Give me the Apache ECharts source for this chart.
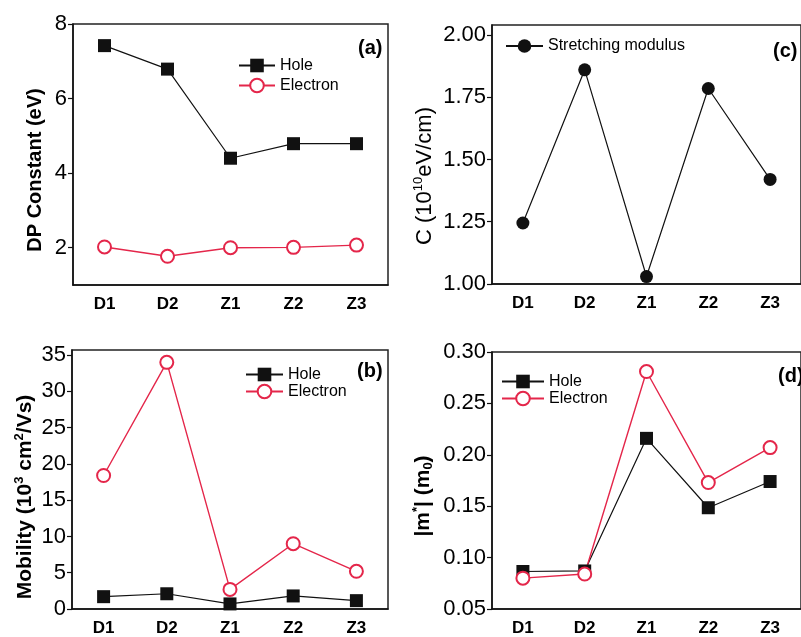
<!DOCTYPE html>
<html>
<head>
<meta charset="utf-8">
<script src="https://cdn.jsdelivr.net/npm/echarts@6/dist/echarts.min.js"></script>
<style>html,body{margin:0;padding:0;background:#fff;}#c{width:801px;height:637px;}</style>
</head>
<body>
<div id="c"></div>
<script>
const categories = ['D1', 'D2', 'Z1', 'Z2', 'Z3'];
// (a) DP constant (eV)
const dpHole = [7.42, 6.79, 4.40, 4.79, 4.79];
const dpElectron = [2.02, 1.77, 2.00, 2.01, 2.07];
// (b) Mobility (10^3 cm^2/Vs)
const mobHole = [1.7, 2.1, 0.7, 1.8, 1.15];
const mobElectron = [18.4, 34.0, 2.7, 9.0, 5.2];
// (c) Stretching modulus (10^10 eV/cm)
const stretching = [1.245, 1.86, 1.03, 1.785, 1.42];
// (d) |m*| (m0)
const massHole = [0.0865, 0.087, 0.216, 0.1485, 0.174];
const massElectron = [0.080, 0.084, 0.281, 0.173, 0.207];
// tick labels
const ticksA = [2, 4, 6, 8];
const ticksB = [0, 5, 10, 15, 20, 25, 30, 35];
const ticksC = [1.00, 1.25, 1.50, 1.75, 2.00];
const ticksD = [0.05, 0.10, 0.15, 0.20, 0.25, 0.30];

const FONT = '"Liberation Sans", Arial, sans-serif';
const RED = '#e4264a';
const BLK = '#111';

const grids = [
  {left: 73, top: 24, width: 315, height: 261},
  {left: 72, top: 350, width: 316, height: 259},
  {left: 492, top: 25, width: 315, height: 259},
  {left: 492, top: 352, width: 315, height: 258}
].map(g => Object.assign(g, {show: true, borderColor: '#222', borderWidth: 1.5, backgroundColor: 'transparent'}));

function xAx(i) {
  return {
    type: 'category', gridIndex: i, data: categories, boundaryGap: true,
    axisLine: {lineStyle: {color: BLK, width: 1.5}},
    axisTick: {alignWithLabel: true, length: 5, lineStyle: {color: BLK, width: 1.2}},
    axisLabel: {margin: 11, color: '#000', fontFamily: FONT, fontSize: 17, fontWeight: 'bold'},
    splitLine: {show: false}
  };
}
function yAx(i, min, max, ticks, dec) {
  return {
    type: 'value', gridIndex: i, min: min, max: max,
    axisLine: {show: true, lineStyle: {color: BLK, width: 1.5}},
    axisTick: {show: true, length: 5, customValues: ticks, lineStyle: {color: BLK, width: 1.2}},
    axisLabel: {customValues: ticks, margin: 6, color: '#000', fontFamily: FONT, fontSize: 22,
      formatter: v => Number(v).toFixed(dec)},
    splitLine: {show: false}
  };
}

function holeSeries(name, xi, data) {
  return {name: name, type: 'line', xAxisIndex: xi, yAxisIndex: xi, data: data,
    symbol: 'rect', symbolSize: 13, itemStyle: {color: BLK},
    lineStyle: {color: BLK, width: 1.2}};
}
function elecSeries(name, xi, data) {
  return {name: name, type: 'line', xAxisIndex: xi, yAxisIndex: xi, data: data,
    symbol: 'emptyCircle', symbolSize: 13, itemStyle: {color: RED, borderWidth: 1.4},
    lineStyle: {color: RED, width: 1.4}};
}

const legendBase = {orient: 'vertical', padding: 0, itemHeight: 17, textStyle: {fontFamily: FONT, fontSize: 16, color: '#000', lineHeight: 14}};

function label(text, x, y) {
  return {type: 'text', x: x, y: y, style: {text: text, fontFamily: FONT, fontSize: 20, fontWeight: 'bold', fill: '#000', textAlign: 'left', textVerticalAlign: 'middle'}};
}
function yName(text, rich, x, y) {
  return {type: 'text', x: x, y: y, rotation: Math.PI / 2,
    style: {text: text, rich: rich, textAlign: 'center', textVerticalAlign: 'middle', fill: '#000'}};
}

const option = {
  animation: false,
  backgroundColor: '#fff',
  grid: grids,
  xAxis: [xAx(0), xAx(1), xAx(2), xAx(3)],
  yAxis: [
    yAx(0, 1, 8, ticksA, 0),
    yAx(1, 0, 35.7, ticksB, 0),
    yAx(2, 1, 2.04, ticksC, 2),
    yAx(3, 0.05, 0.30, ticksD, 2)
  ],
  legend: [
    Object.assign({}, legendBase, {data: ['Hole', 'Electron'], left: 238, top: 57.5, itemWidth: 36, itemGap: 4}),
    Object.assign({}, legendBase, {data: ['Hole', 'Electron'], left: 245, top: 366.5, itemWidth: 37, itemGap: 1}),
    Object.assign({}, legendBase, {data: ['Stretching modulus'], left: 505, top: 38, itemWidth: 37, itemGap: 1}),
    Object.assign({}, legendBase, {data: ['Hole', 'Electron'], left: 501, top: 373.5, itemWidth: 42, itemGap: 1})
  ],
  series: [
    holeSeries('Hole', 0, dpHole),
    elecSeries('Electron', 0, dpElectron),
    holeSeries('Hole', 1, mobHole),
    elecSeries('Electron', 1, mobElectron),
    {name: 'Stretching modulus', type: 'line', xAxisIndex: 2, yAxisIndex: 2, data: stretching,
      symbol: 'circle', symbolSize: 13, itemStyle: {color: BLK}, lineStyle: {color: BLK, width: 1.2}},
    holeSeries('Hole', 3, massHole),
    elecSeries('Electron', 3, massElectron)
  ],
  graphic: [
    label('(a)', 358, 48),
    label('(b)', 357, 371),
    label('(c)', 773, 51),
    label('(d)', 778, 376),
    yName('{a|DP Constant (eV)}', {a: {fontFamily: FONT, fontSize: 20, fontWeight: 'bold', fill: '#000', lineHeight: 24}}, 35, 170),
    yName('{a|Mobility (10}{s|3}{a| cm}{s|2}{a|/Vs)}', {
      a: {fontFamily: FONT, fontSize: 21, fontWeight: 'bold', fill: '#000', lineHeight: 24},
      s: {fontFamily: FONT, fontSize: 13, fontWeight: 'bold', fill: '#000', lineHeight: 13, verticalAlign: 'top'}
    }, 25, 497),
    yName('{a|C (10}{s|10}{a|eV/cm)}', {
      a: {fontFamily: FONT, fontSize: 22, fill: '#000', lineHeight: 26},
      s: {fontFamily: FONT, fontSize: 13, fill: '#000', lineHeight: 13, verticalAlign: 'top'}
    }, 425, 176),
    yName('{a||m}{s|*}{a|| (m}{b|0}{a|)}', {
      a: {fontFamily: FONT, fontSize: 21, fontWeight: 'bold', fill: '#000', lineHeight: 24},
      s: {fontFamily: FONT, fontSize: 13, fontWeight: 'bold', fill: '#000', lineHeight: 13, verticalAlign: 'top'},
      b: {fontFamily: FONT, fontSize: 13, fontWeight: 'bold', fill: '#000', lineHeight: 13, verticalAlign: 'bottom'}
    }, 423, 496)
  ]
};

const chart = echarts.init(document.getElementById('c'), null, {renderer: 'canvas'});
chart.setOption(option);
</script>
</body>
</html>
